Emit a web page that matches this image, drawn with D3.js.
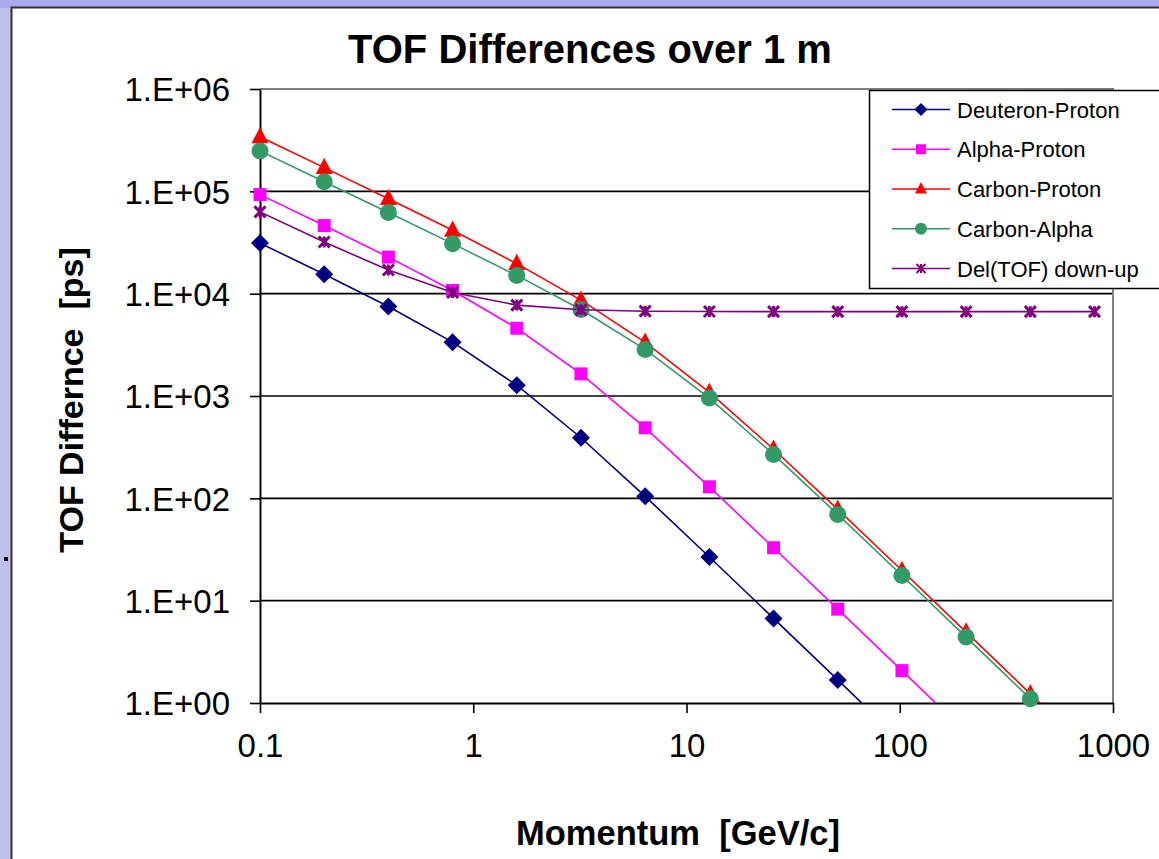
<!DOCTYPE html>
<html>
<head>
<meta charset="utf-8">
<script src="https://cdnjs.cloudflare.com/ajax/libs/d3/7.8.5/d3.min.js"></script>
<style>
  body { margin: 0; background: #fff; }
  svg { display: block; font-family: "Liberation Sans", Arial, sans-serif; }
</style>
</head>
<body>
<div id="chart"></div>
<script>
// momentum values [GeV/c]
var momentum = [0.1, 0.2, 0.4, 0.8, 1.6, 3.2, 6.4, 12.8, 25.6, 51.2, 102.4, 204.8, 409.6, 819.2];

// TOF differences [ps]
var deuteronProton = [31200, 15470, 7490, 3360, 1274, 391, 104.7, 26.7, 6.71, 1.68, 0.42, 0.105, 0.026, 0.0066];
var alphaProton    = [92900, 46260, 22760, 10750, 4590, 1645, 489, 129.6, 32.9, 8.27, 2.07, 0.517, 0.129, 0.032];
var carbonProton   = [341300, 170400, 84740, 41580, 19670, 8640, 3341, 1083, 301.7, 78.0, 19.7, 4.93, 1.23, 0.31];
var carbonAlpha    = [248400, 124150, 61990, 30820, 15080, 6996, 2852, 954, 268.8, 69.7, 17.6, 4.41, 1.10, 0.28];
var delTofDownUp   = [62930, 31990, 17010, 10280, 7733, 6952, 6743, 6689, 6676, 6672, 6672, 6671, 6671, 6671];

var seriesNames = ["Deuteron-Proton", "Alpha-Proton", "Carbon-Proton", "Carbon-Alpha", "Del(TOF) down-up"];
var seriesColors = ["#000080", "#ff00ff", "#ff0000", "#339966", "#800080"];
var seriesMarkers = ["diamond", "square", "triangle", "circle", "star"];

var xTicks = [0.1, 1, 10, 100, 1000];
var xTickLabels = ["0.1", "1", "10", "100", "1000"];
var yTicks = [1, 10, 100, 1000, 1e4, 1e5, 1e6];
var yTickLabels = ["1.E+00", "1.E+01", "1.E+02", "1.E+03", "1.E+04", "1.E+05", "1.E+06"];

var width = 1159, height = 859;
var plotLeft = 260, plotRight = 1113, plotTop = 89, plotBottom = 703;

var svg = d3.select("#chart").append("svg")
    .attr("width", width)
    .attr("height", height);

// slide background around the chart
svg.append("rect").attr("x", 0).attr("y", 0).attr("width", width).attr("height", height).attr("fill", "#aaaaee");
svg.append("rect").attr("x", 0).attr("y", 8).attr("width", 11).attr("height", height).attr("fill", "#c0c0e8");
svg.append("rect").attr("x", 11.5).attr("y", 7.5).attr("width", width).attr("height", height)
    .attr("fill", "#fff").attr("stroke", "#333").attr("stroke-width", 2);
svg.append("rect").attr("x", 4).attr("y", 557).attr("width", 4).attr("height", 4).attr("fill", "#000");

var x = d3.scaleLog().domain([0.1, 1000]).range([plotLeft, plotRight]);
var y = d3.scaleLog().domain([1, 1e6]).range([plotBottom, plotTop]);

// horizontal gridlines
svg.append("g").selectAll("line")
    .data(yTicks.slice(1, 6))
    .enter().append("line")
    .attr("x1", plotLeft).attr("x2", plotRight)
    .attr("y1", function(d){ return y(d); })
    .attr("y2", function(d){ return y(d); })
    .attr("stroke", "#000")
    .attr("stroke-width", 1.6);

// plot frame top / right
svg.append("path")
    .attr("d", "M" + plotLeft + "," + y(1e6) + "H" + x(1000) + "V" + y(1))
    .attr("fill", "none")
    .attr("stroke", "#808080")
    .attr("stroke-width", 2);

var yAxis = d3.axisLeft(y)
    .tickValues(yTicks)
    .tickFormat(function(d, i){ return yTickLabels[i]; })
    .tickSize(10)
    .tickSizeOuter(0)
    .tickPadding(20);

var xAxis = d3.axisBottom(x)
    .tickValues(xTicks)
    .tickFormat(function(d, i){ return xTickLabels[i]; })
    .tickSize(10)
    .tickSizeOuter(0);

var gy = svg.append("g")
    .attr("transform", "translate(" + plotLeft + ",0)")
    .call(yAxis);
var gx = svg.append("g")
    .attr("transform", "translate(0," + plotBottom + ")")
    .call(xAxis);

[gx, gy].forEach(function(g){
    g.select(".domain").attr("stroke", "#000").attr("stroke-width", 2);
    g.selectAll(".tick line").attr("stroke", "#000").attr("stroke-width", 1.6);
    g.selectAll(".tick text")
        .attr("fill", "#000")
        .style("font-family", "'Liberation Sans', Arial, sans-serif")
        .style("font-size", "33px");
});
gy.selectAll(".tick text").attr("dy", "0.36em");
gx.selectAll(".tick text").attr("y", 54).attr("dy", 0);

svg.append("clipPath").attr("id", "plotclip")
    .append("rect")
    .attr("x", plotLeft).attr("y", plotTop)
    .attr("width", plotRight - plotLeft).attr("height", plotBottom - plotTop);

function markerPath(type, s) {
    if (type == "diamond") return "M0," + (-s) + "L" + s + ",0L0," + s + "L" + (-s) + ",0Z";
    if (type == "square") return "M" + (-s) + "," + (-s) + "H" + s + "V" + s + "H" + (-s) + "Z";
    if (type == "triangle") return "M0," + (-s * 1.15) + "L" + s + "," + (s * 0.75) + "L" + (-s) + "," + (s * 0.75) + "Z";
    if (type == "circle") return d3.symbol().type(d3.symbolCircle).size(Math.PI * s * s)();
    return "M" + (-s) + "," + (-s) + "L" + s + "," + s + "M" + (-s) + "," + s + "L" + s + "," + (-s) +
           "M0," + (-s) + "V" + s;
}
var markerSize = [9, 6.5, 8.5, 8.5, 5.5];
var legendMarkerSize = [6.5, 5, 6, 6, 4.5];

var line = d3.line()
    .x(function(d){ return x(d.p); })
    .y(function(d){ return y(d.v); });

var allSeries = [deuteronProton, alphaProton, carbonProton, carbonAlpha, delTofDownUp];

allSeries.forEach(function(vals, i){
    var data = momentum.map(function(p, j){ return {p: p, v: vals[j]}; });
    var g = svg.append("g");
    g.append("path")
        .attr("clip-path", "url(#plotclip)")
        .attr("d", line(data))
        .attr("fill", "none")
        .attr("stroke", seriesColors[i])
        .attr("stroke-width", 1.6);
    var star = seriesMarkers[i] == "star";
    g.selectAll(".pt")
        .data(data.filter(function(d){ return d.v >= 1; }))
        .enter().append("path")
        .attr("transform", function(d){ return "translate(" + x(d.p) + "," + y(d.v) + ")"; })
        .attr("d", markerPath(seriesMarkers[i], markerSize[i]))
        .attr("fill", star ? "none" : seriesColors[i])
        .attr("stroke", seriesColors[i])
        .attr("stroke-width", star ? 3 : 0);
});

// legend
var legend = svg.append("g");
legend.append("rect")
    .attr("x", 869.5).attr("y", 90.5)
    .attr("width", 320).attr("height", 198)
    .attr("fill", "#fff")
    .attr("stroke", "#000")
    .attr("stroke-width", 1.5);

seriesNames.forEach(function(name, i){
    var ly = 109.5 + i * 39.75;
    var row = legend.append("g");
    row.append("line")
        .attr("x1", 892).attr("x2", 950)
        .attr("y1", ly).attr("y2", ly)
        .attr("stroke", seriesColors[i])
        .attr("stroke-width", 1.6);
    var star = seriesMarkers[i] == "star";
    row.append("path")
        .attr("transform", "translate(921," + ly + ")")
        .attr("d", markerPath(seriesMarkers[i], legendMarkerSize[i]))
        .attr("fill", star ? "none" : seriesColors[i])
        .attr("stroke", seriesColors[i])
        .attr("stroke-width", star ? 2 : 0);
    row.append("text")
        .attr("x", 957).attr("y", ly + 8)
        .attr("fill", "#000")
        .style("font-size", "22px")
        .text(name);
});

// titles
svg.append("text")
    .attr("x", 590).attr("y", 63)
    .attr("text-anchor", "middle")
    .style("font-size", "40px")
    .style("font-weight", "bold")
    .text("TOF Differences over 1 m");

svg.append("text")
    .attr("x", 678).attr("y", 845)
    .attr("text-anchor", "middle")
    .style("font-size", "34.5px")
    .style("font-weight", "bold")
    .style("white-space", "pre")
    .text("Momentum  [GeV/c]");

svg.append("text")
    .attr("transform", "translate(83,400) rotate(-90)")
    .attr("text-anchor", "middle")
    .style("font-size", "34px")
    .style("font-weight", "bold")
    .style("white-space", "pre")
    .text("TOF Differnce  [ps]");
</script>
</body>
</html>
